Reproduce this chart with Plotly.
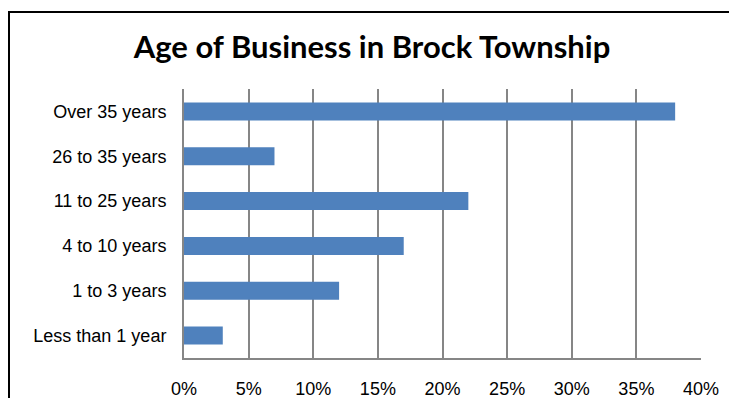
import plotly.graph_objects as go

categories = ["Less than 1 year", "1 to 3 years", "4 to 10 years",
              "11 to 25 years", "26 to 35 years", "Over 35 years"]
values = [3, 12, 17, 22, 7, 38]
tick_vals = [0, 5, 10, 15, 20, 25, 30, 35, 40]
tick_text = ["0%", "5%", "10%", "15%", "20%", "25%", "30%", "35%", "40%"]
title_text = "Age of Business in Brock Township"

W, H = 729, 398
L, R, T, B = 184, 28, 89, 40
pw, ph = W - L - R, H - T - B

def px(x):
    return (x - L) / pw

def py(y):
    return (H - B - y) / ph

fig = go.Figure(go.Bar(
    x=values, y=categories, orientation="h",
    marker=dict(color="#4F81BD", line=dict(width=0)),
))

fig.update_layout(
    width=W, height=H,
    margin=dict(l=L, r=R, t=T, b=B, autoexpand=False),
    paper_bgcolor="white", plot_bgcolor="white",
    bargap=0.6,
    showlegend=False,
    title=dict(text="<b>" + title_text + "</b>", xref="container", x=372 / W,
               xanchor="center", yref="container", y=1 - 47 / H, yanchor="middle",
               font=dict(family="Lato", size=31, color="black")),
    xaxis=dict(range=[0, 40], tickvals=tick_vals, ticktext=tick_text,
               showgrid=True, gridcolor="#868686", gridwidth=2,
               showline=True, linecolor="#868686", linewidth=2,
               zeroline=False, ticks="", ticklabelstandoff=13, automargin=False,
               tickfont=dict(family="Liberation Sans", size=18, color="black"),
               fixedrange=True),
    yaxis=dict(showgrid=False, showline=True, linecolor="#868686", linewidth=2,
               zeroline=False, ticks="", ticklabelstandoff=12, automargin=False,
               tickfont=dict(family="Liberation Sans", size=18, color="black"),
               fixedrange=True),
    shapes=[dict(type="rect", xref="paper", yref="paper",
                 x0=px(9), x1=px(760), y0=py(430), y1=py(12),
                 line=dict(color="black", width=2), layer="above")],
)

fig.write_html("out.html")
